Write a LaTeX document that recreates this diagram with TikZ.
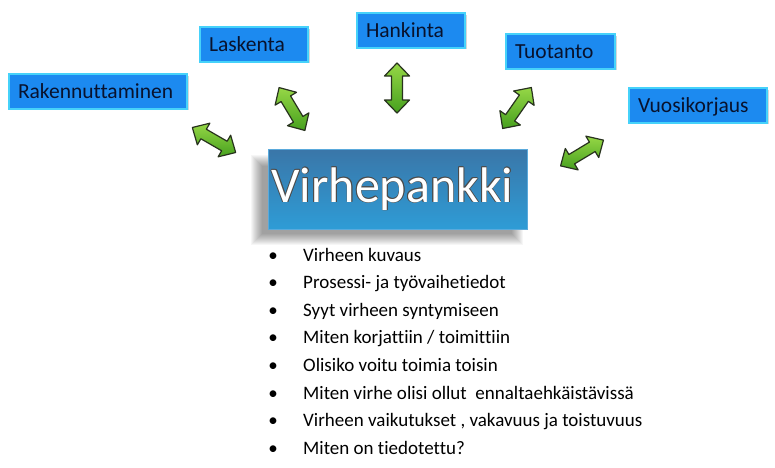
\documentclass[tikz,border=0pt]{standalone}
\usepackage{fontspec}
\setmainfont{Carlito}[Ligatures={NoCommon}]
\usetikzlibrary{shadows}
\definecolor{boxblue}{RGB}{28,138,240}
\definecolor{boxedge}{RGB}{70,210,250}
\definecolor{boxtext}{RGB}{8,18,45}
\definecolor{vtop}{RGB}{58,118,168}
\definecolor{vbot}{RGB}{46,156,214}
\definecolor{vedge}{RGB}{90,170,220}
\definecolor{glight}{RGB}{150,215,70}
\definecolor{gdark}{RGB}{70,160,30}
\definecolor{gedge}{RGB}{40,50,30}
\newcommand\lbox[2]{\makebox[#1][l]{#2}}
\begin{document}
\begin{tikzpicture}[x=1pt,y=-1pt,
  topic/.style={draw=boxedge, line width=1.8pt, fill=boxblue, text=boxtext,
    font=\fontsize{21.5}{23}\selectfont, inner xsep=9pt, inner ysep=10.4pt,
    text height=13.9pt, text depth=0pt,
    drop shadow={opacity=0.3, shadow xshift=1.5pt, shadow yshift=-1.5pt}},
  arrowbody/.style={draw=gedge, line width=1.2pt, line join=round,
    top color=glight, bottom color=gdark},
  dblarr/.pic={
    \path[arrowbody] (-25,0) -- (-12,-12.5) -- (-12,-5.5) -- (12,-5.5) -- (12,-12.5)
      -- (25,0) -- (12,12.5) -- (12,5.5) -- (-12,5.5) -- (-12,12.5) -- cycle;
    \coordinate (-c) at (0,0);
  },
  bullettext/.style={anchor=base west, inner sep=0pt, font=\fontsize{19}{21}\selectfont, text=black},
  bulletdot/.style={anchor=base, inner sep=0pt, font=\fontsize{19}{21}\selectfont, text=black}
]
\useasboundingbox (0,0) rectangle (775,467);
\fill[white] (0,0) rectangle (775,467);

% topic boxes
\node[topic] (rak) at (98,91.5) {\lbox{160pt}{Rakennuttaminen}};
\node[topic] (las) at (254,44.5) {\lbox{90pt}{Laskenta}};
\node[topic] (han) at (411,30.5) {\lbox{90pt}{Hankinta}};
\node[topic] (tuo) at (560.5,51.5) {\lbox{91pt}{Tuotanto}};
\node[topic] (vuo) at (698,105.5) {\lbox{120pt}{Vuosikorjaus}};

% arrows
\pic[rotate=-30] (a1) at (214,140) {dblarr};
\pic[rotate=-59] (a2) at (292,109) {dblarr};
\pic[rotate=90] (a3) at (397,88) {dblarr};
\pic[rotate=55] (a4) at (517,108) {dblarr};
\pic[rotate=31] (a5) at (582,153) {dblarr};

% shadow of central box
\foreach \k in {0,...,11}{
  \fill[black, opacity=0.035] (262-\k,166-\k) rectangle (512+\k,234+\k);
}
% central box
\node[draw=vedge, line width=1pt, top color=vtop, bottom color=vbot,
  minimum width=259pt, minimum height=80pt, inner sep=0pt] (vp) at (397.5,189) {};
\foreach \dx/\dy in {0.6/0,-0.6/0,0/0.6,0/-0.6,0.45/0.45,-0.45/0.45,0.45/-0.45,-0.45/-0.45}{
  \node[text=black!70, font=\fontsize{50}{52}\selectfont, inner sep=0pt]
    at ([shift={(\dx,\dy)}]392.5,189) {Virhepankki};
}
\node[text=white, font=\fontsize{50}{52}\selectfont, inner sep=0pt] (vpt) at (392.5,189) {Virhepankki};

% bullet list
\foreach \t [count=\i] in {Virheen kuvaus, Prosessi- ja työvaihetiedot, Syyt virheen syntymiseen,
  Miten korjattiin / toimittiin, Olisiko voitu toimia toisin,
  Miten virhe olisi ollut\ \ ennaltaehkäistävissä,
  {Virheen vaikutukset , vakavuus ja toistuvuus}, Miten on tiedotettu?}{
  \node[bulletdot] (d\i) at (273,{261+27.6*(\i-1)}) {\textbullet};
  \node[bullettext] (t\i) at (303,{261+27.6*(\i-1)}) {\t};
}
\end{tikzpicture}
\end{document}
